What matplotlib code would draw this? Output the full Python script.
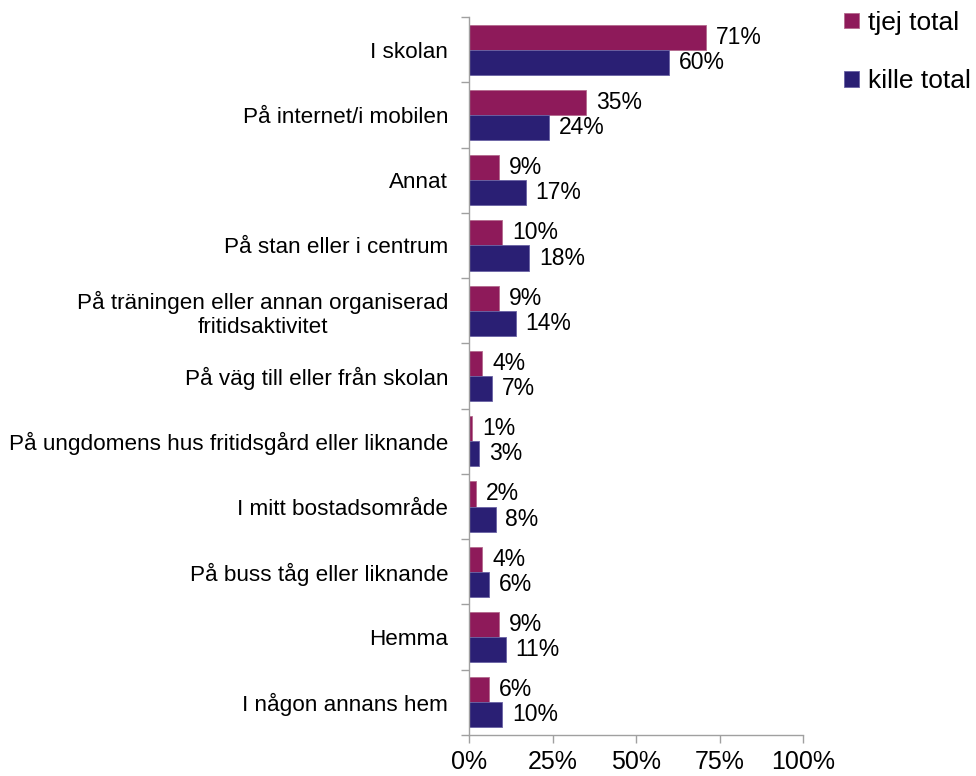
import numpy as np
import matplotlib
matplotlib.use('Agg')
from matplotlib import pyplot as plt

categories = [
    'I skolan',
    'På internet/i mobilen',
    'Annat',
    'På stan eller i centrum',
    'På träningen eller annan organiserad\nfritidsaktivitet',
    'På väg till eller från skolan',
    'På ungdomens hus fritidsgård eller liknande',
    'I mitt bostadsområde',
    'På buss tåg eller liknande',
    'Hemma',
    'I någon annans hem',
]
tjej = [71, 35, 9, 10, 9, 4, 1, 2, 4, 9, 6]
kille = [60, 24, 17, 18, 14, 7, 3, 8, 6, 11, 10]
xticks = [0, 25, 50, 75, 100]

plt.rcParams['font.family'] = ['Liberation Sans', 'DejaVu Sans']

fig = plt.figure(figsize=(9.76, 7.76), dpi=100)
ax = fig.add_axes([469/976, 1 - 735/776, 334/976, 718/776])

y = np.arange(len(categories))
h = 0.385
b1 = ax.barh(y - h/2, tjej, height=h, color='#8e1a5a', edgecolor='#b46a8e', lw=0.6, label='tjej total')
b2 = ax.barh(y + h/2, kille, height=h, color='#2a1f74', edgecolor='#6a62a4', lw=0.6, label='kille total')

ax.bar_label(b1, labels=[f'{v}%' for v in tjej], padding=7, fontsize=16.5)
ax.bar_label(b2, labels=[f'{v}%' for v in kille], padding=7, fontsize=16.5)

ax.set_ylim(len(categories) - 0.5, -0.5)
ax.set_xlim(0, 100)
ax.set_xticks(xticks)
ax.set_xticklabels([f'{t}%' for t in xticks], fontsize=18)

# category labels between boundary ticks
ax.set_yticks(np.arange(len(categories) + 1) - 0.5)
ax.set_yticklabels([])
ax.set_yticks(y, minor=True)
ax.set_yticklabels(categories, minor=True, fontsize=16.2)
for lab in ax.get_yticklabels(minor=True):
    lab.set_multialignment('center')
ax.tick_params(axis='y', which='minor', length=0, pad=15)
ax.tick_params(axis='y', which='major', length=6, color='#a0a0a0', width=1)
ax.tick_params(axis='x', length=6, color='#a0a0a0', width=1, pad=5)

for s in ['top', 'right']:
    ax.spines[s].set_visible(False)
for s in ['left', 'bottom']:
    ax.spines[s].set_color('#a0a0a0')
    ax.spines[s].set_linewidth(1)

fig.legend(handles=[b1, b2], loc='upper left', bbox_to_anchor=(844/976, 0.986),
           frameon=False, fontsize=19, handlelength=0.55, handleheight=0.55,
           handletextpad=0.35, labelspacing=1.3, borderaxespad=0, borderpad=0)

fig.savefig('out.png', dpi=100)
